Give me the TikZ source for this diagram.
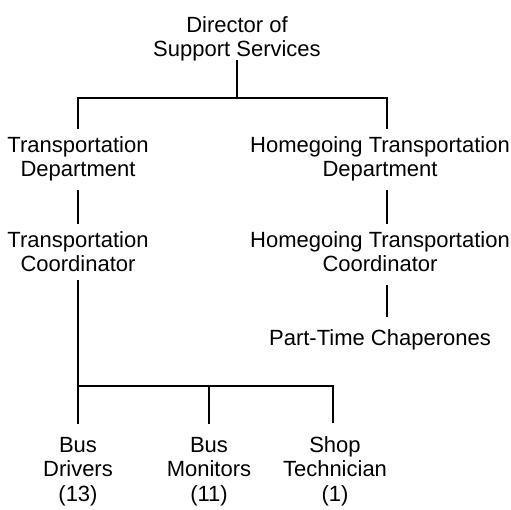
\documentclass[tikz,border=0pt]{standalone}
\usepackage{fontspec}
\setmainfont{Liberation Sans}
\usetikzlibrary{positioning}

\begin{document}
\begin{tikzpicture}[x=1pt, y=-1pt, line width=1.6pt,
		every node/.style={align=center, inner sep=0pt, outer sep=8pt, font=\fontsize{22}{24.5}\selectfont}]
		\useasboundingbox (0,0) rectangle (511,510);

		% Director
		\node[anchor=base] (dir) at (237,57) {Director of\\Support Services};
		\coordinate (bar) at (237,98);

		% Transportation
		\node[anchor=base] (tdept) at (78,177) {Transportation\\Department};
		\node[anchor=base] (tcoord) at (78,272) {Transportation\\Coordinator};

		% Homegoing
		\node[anchor=base] (hdept) at (380,177) {Homegoing Transportation\\Department};
		\node[anchor=base] (hcoord) at (380,272) {Homegoing Transportation\\Coordinator};
		\node[anchor=base] (chap) at (380,345) {Part-Time Chaperones};

		% staff
		\node[anchor=base] (drivers) at (78,501) {Bus\\Drivers\\(13)};
		\node[anchor=base] (monitors) at (209,501) {Bus\\Monitors\\(11)};
		\node[anchor=base] (shop) at (335,501) {Shop\\Technician\\(1)};
		\coordinate (busbar) at (78,386);

		% connectors
		\draw ([yshift=10pt]dir.south) -- (bar);
		\draw (tdept.north) |- (bar) -| ([xshift=7pt]hdept.north);
		\draw (tdept.south) -- (tcoord.north);
		\draw ([xshift=7pt]hdept.south) -- ([xshift=7pt]hcoord.north);
		\draw ([xshift=7pt, yshift=-5pt]hcoord.south) -- ([xshift=7pt, yshift=4pt]chap.north);
		\draw (tcoord.south) -- ([yshift=5pt]drivers.north);
		\draw (busbar) -| ([yshift=5pt]monitors.north);
		\draw (busbar) -| ([xshift=-2pt, yshift=5pt]shop.north);
	\end{tikzpicture}
\end{document}
